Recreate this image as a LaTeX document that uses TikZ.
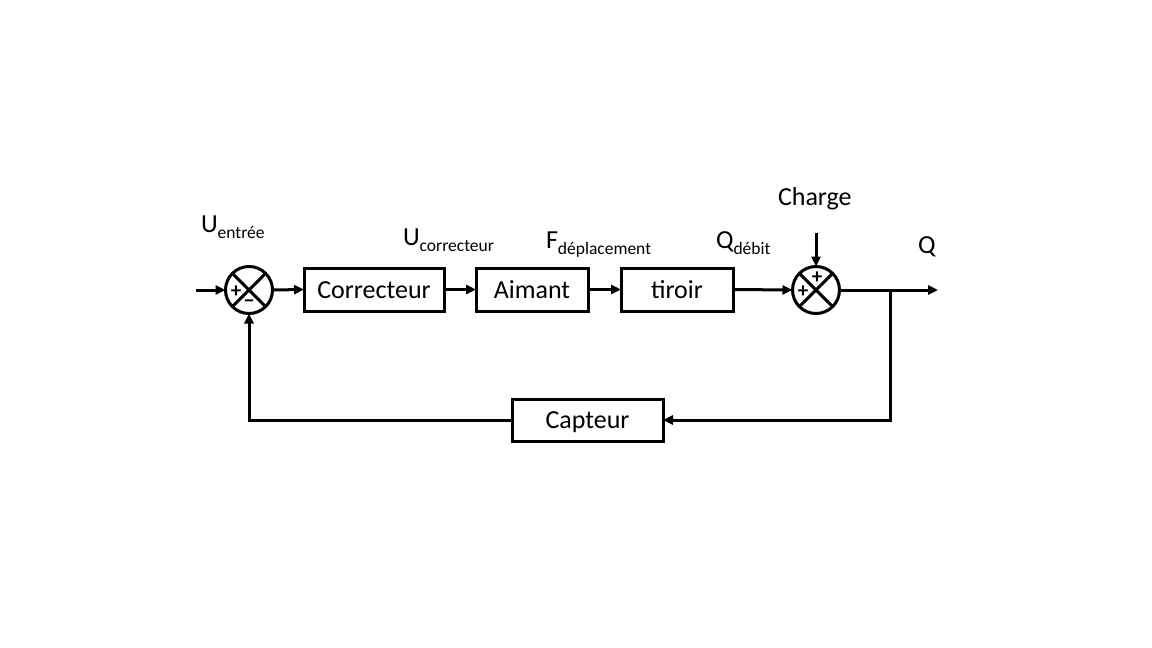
\documentclass[tikz,border=0pt]{standalone}
\usepackage{fontspec}
\setmainfont{Carlito}
\usetikzlibrary{arrows.meta,calc}
\begin{document}
\begin{tikzpicture}[x=1pt,y=-1pt,
  every node/.style={inner sep=0pt,outer sep=0pt},
  blk/.style={draw,line width=3pt,minimum height=43pt,text height=18pt,text depth=1pt,font=\fontsize{26}{30}\selectfont},
  sumc/.style={draw,circle,line width=3pt,minimum size=47pt},
  sgn/.style={font=\fontsize{21}{24}\selectfont\bfseries},
  lbl/.style={anchor=base west,font=\fontsize{26}{30}\selectfont},
  arr/.style={line width=3pt,-{Triangle[length=10pt,width=9pt]}},
  ln/.style={line width=3pt}]
\useasboundingbox (0,0) rectangle (1152,648);
% summing junctions
\node[sumc] (s1) at (249,290) {};
\draw[ln] (s1.north west) -- (s1.south east);
\draw[ln] (s1.north east) -- (s1.south west);
\node[sgn] (s1p) at (236,292) {+};
\node[sgn] (s1m) at (249,304) {\textminus};
\node[sumc] (s2) at (816,290) {};
\draw[ln] (s2.north west) -- (s2.south east);
\draw[ln] (s2.north east) -- (s2.south west);
\node[sgn] (s2t) at (817,278) {+};
\node[sgn] (s2l) at (803,292) {+};
% blocks
\node[blk,minimum width=140pt] (corr) at (374,289.5) {Correcteur};
\node[blk,minimum width=112pt] (aim) at (532,289.5) {Aimant};
\node[blk,minimum width=112pt] (tir) at (677,289.5) {tiroir};
\node[blk,minimum width=151pt,minimum height=42pt] (cap) at (587.5,420) {Capteur};
% coordinates
\coordinate (in) at (196,290);
\coordinate (ch) at (816,233);
\coordinate (out) at (938,290);
\coordinate (br) at (890,290);
% connectors
\draw[arr] (in) -- (s1.west);
\draw[arr] (s1.east) -- (corr.west);
\draw[arr] (corr.east) -- (aim.west);
\draw[arr] (aim.east) -- (tir.west);
\draw[arr] (tir.east) -- (s2.west);
\draw[arr] (ch) -- (s2.north);
\draw[arr] (s2.east) -- (out);
\draw[arr] (br) |- (cap.east);
\draw[arr] (cap.west) -| (s1.south);
% labels
\newcommand{\subtxt}[1]{{\fontsize{17.5}{20}\selectfont\raisebox{-6pt}{#1}}}
\node[lbl] (lue) at (201,232) {U\subtxt{entrée}};
\node[lbl] (luc) at (403,245) {U\subtxt{correcteur}};
\node[lbl] (lfd) at (546,248) {F\subtxt{déplacement}};
\node[lbl] (lqd) at (716,248) {Q\subtxt{débit}};
\node[lbl] (lch) at (778,205) {Charge};
\node[lbl] (lq) at (918,253) {Q};
\end{tikzpicture}
\end{document}
